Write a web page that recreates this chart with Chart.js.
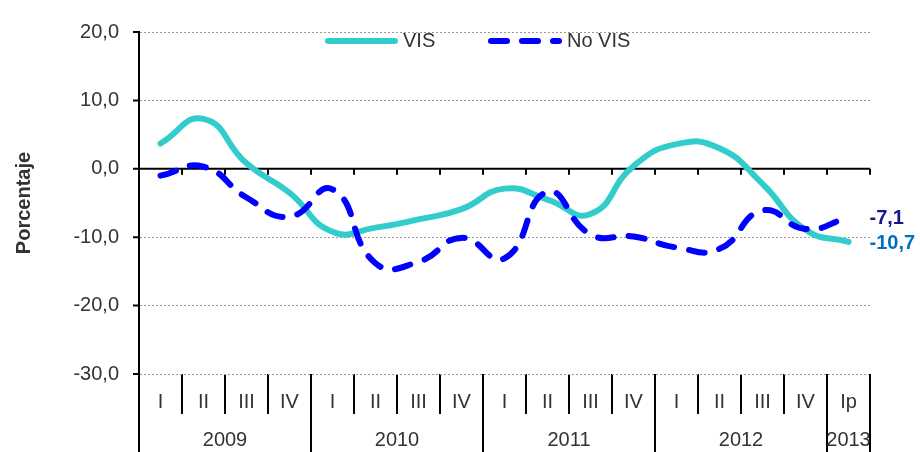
<!DOCTYPE html>
<html>
<head>
<meta charset="utf-8">
<script src="https://cdn.jsdelivr.net/npm/chart.js@4/dist/chart.umd.min.js"></script>
<style>
  html, body { margin: 0; padding: 0; background: #fff; }
  #wrap { width: 920px; height: 452px; }
</style>
</head>
<body>
<div id="wrap"><canvas id="myChart"></canvas></div>
<script>
const quarters = ['I', 'II', 'III', 'IV', 'I', 'II', 'III', 'IV', 'I', 'II', 'III', 'IV', 'I', 'II', 'III', 'IV', 'Ip'];
const years = ['2009', '2010', '2011', '2012', '2013'];
const yearSpans = [4, 4, 4, 4, 1];
const vis = [3.7, 7.3, 0.8, -3.5, -9.2, -8.6, -7.4, -5.9, -2.9, -4.5, -6.6, 0.4, 3.6, 3.0, -2.2, -8.9, -10.7];
const noVis = [-1.0, 0.3, -4.2, -7.0, -3.0, -13.8, -13.6, -10.1, -13.1, -3.4, -9.6, -9.9, -11.5, -11.7, -6.1, -8.8, -7.1];
const endLabels = ['-10,7', '-7,1'];
const endColors = ['#0070C0', '#15158C'];

const FONT = '"Liberation Sans", Arial, sans-serif';
const TXT = '#333333';

// ejes, marcas, años, leyenda y etiquetas finales
const extras = {
  id: 'extras',
  beforeDatasetsDraw(chart) {
    const {ctx, chartArea, scales: {x, y}} = chart;
    const half = (x.getPixelForValue(1) - x.getPixelForValue(0)) / 2;
    ctx.save();
    ctx.strokeStyle = '#000';
    ctx.lineWidth = 2;
    // eje horizontal en 0
    const y0 = y.getPixelForValue(0);
    ctx.beginPath();
    ctx.moveTo(chartArea.left, y0);
    ctx.lineTo(chartArea.right, y0);
    for (let i = 0; i < quarters.length; i++) {
      const bx = x.getPixelForValue(i) + half;
      ctx.moveTo(bx, y0);
      ctx.lineTo(bx, y0 + 6);
    }
    // marcas del eje y
    y.ticks.forEach(t => {
      const py = y.getPixelForValue(t.value);
      ctx.moveTo(chartArea.left - 6, py);
      ctx.lineTo(chartArea.left, py);
    });
    ctx.stroke();
    ctx.restore();
  },
  afterDraw(chart) {
    const {ctx, chartArea, scales: {x}} = chart;
    const half = (x.getPixelForValue(1) - x.getPixelForValue(0)) / 2;
    ctx.save();
    // años
    ctx.strokeStyle = '#000';
    ctx.lineWidth = 2;
    ctx.fillStyle = TXT;
    ctx.font = '20px ' + FONT;
    ctx.textAlign = 'center';
    ctx.textBaseline = 'middle';
    let idx = 0;
    years.forEach((yr, k) => {
      const left = x.getPixelForValue(idx) - half;
      const right = x.getPixelForValue(idx + yearSpans[k] - 1) + half;
      ctx.beginPath();
      ctx.moveTo(left, chartArea.bottom);
      ctx.lineTo(left, chart.height);
      ctx.moveTo(right, chartArea.bottom);
      ctx.lineTo(right, chart.height);
      ctx.stroke();
      ctx.fillText(yr, (left + right) / 2, 440);
      idx += yearSpans[k];
    });

    // etiquetas del último dato
    ctx.font = 'bold 20px ' + FONT;
    ctx.textAlign = 'left';
    chart.data.datasets.forEach((ds, d) => {
      const meta = chart.getDatasetMeta(d);
      const pt = meta.data[meta.data.length - 1];
      ctx.fillStyle = endColors[d];
      ctx.fillText(endLabels[d], pt.x + 21, pt.y + 1);
    });

    // leyenda
    const ly = 41;
    const items = [{x: 325, w: 73}, {x: 488, w: 74}];
    ctx.font = '20px ' + FONT;
    chart.data.datasets.forEach((ds, d) => {
      const it = items[d];
      ctx.strokeStyle = ds.borderColor;
      ctx.lineWidth = ds.borderWidth;
      ctx.lineCap = 'round';
      ctx.setLineDash(ds.borderDash || []);
      ctx.beginPath();
      ctx.moveTo(it.x + 3, ly);
      ctx.lineTo(it.x + it.w - 3, ly);
      ctx.stroke();
      ctx.setLineDash([]);
      ctx.fillStyle = TXT;
      ctx.fillText(ds.label, it.x + it.w + 5, ly);
    });
    ctx.restore();
  }
};

const ctx = document.getElementById('myChart').getContext('2d');
const data = {
  labels: quarters,
  datasets: [
    {
      label: 'VIS',
      data: vis,
      borderColor: '#33CCCC',
      backgroundColor: '#33CCCC',
      borderWidth: 6,
      borderCapStyle: 'round',
      borderJoinStyle: 'round',
      pointRadius: 0,
      tension: 0.5,
      order: 1,
    },
    {
      label: 'No VIS',
      data: noVis,
      borderColor: '#0000FF',
      backgroundColor: '#0000FF',
      borderWidth: 6,
      borderDash: [16, 15],
      borderCapStyle: 'round',
      borderJoinStyle: 'round',
      pointRadius: 0,
      tension: 0.5,
      order: 0,
    },
  ],
};

const config = {
  type: 'line',
  data: data,
  options: {
    responsive: true,
    maintainAspectRatio: false,
    animation: false,
    devicePixelRatio: 1,
    layout: { padding: { top: 21, right: 50, bottom: 0, left: 0 } },
    plugins: {
      legend: { display: false },
      tooltip: { enabled: false },
    },
    scales: {
      x: {
        offset: true,
        grid: {
          offset: true,
          drawOnChartArea: false,
          drawTicks: true,
          tickLength: 40,
          tickColor: '#000',
          tickWidth: 2,
          lineWidth: 2,
          color: '#000',
        },
        border: { display: false },
        ticks: {
          padding: -24,
          color: TXT,
          autoSkip: false,
          maxRotation: 0,
          font: { size: 20, family: FONT },
        },
        afterFit(s) { s.height = 78; },
      },
      y: {
        min: -30,
        max: 20,
        ticks: {
          stepSize: 10,
          padding: 20,
          color: TXT,
          font: { size: 20, family: FONT },
          callback: v => v.toFixed(1).replace('.', ','),
        },
        grid: { color: '#999999', lineWidth: 1, drawTicks: false },
        border: { display: true, color: '#000', width: 2, dash: [2, 2] },
        title: {
          display: true,
          text: 'Porcentaje',
          color: TXT,
          font: { size: 20, weight: 'bold', family: FONT },
          padding: { top: 12, bottom: 0 },
        },
        afterFit(s) { s.width = 139; },
      },
    },
  },
  plugins: [extras],
};

Chart.defaults.color = TXT;
const myChart = new Chart(ctx, config);
</script>
</body>
</html>
